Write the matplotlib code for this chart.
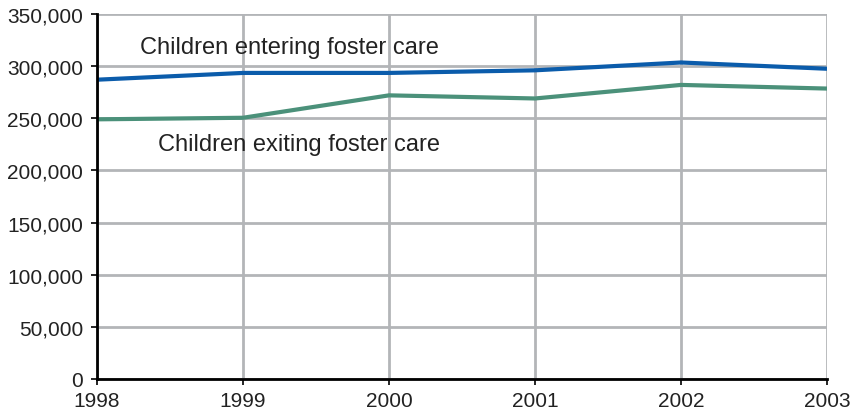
import matplotlib.pyplot as plt
from matplotlib.ticker import FuncFormatter

plt.rcParams['font.family'] = ['Liberation Sans', 'DejaVu Sans']

years = [1998, 1999, 2000, 2001, 2002, 2003]
entering = [287000, 293500, 293500, 296000, 303500, 297500]
exiting = [249000, 250500, 272000, 269000, 282000, 278500]

fig = plt.figure(figsize=(8.52, 4.14), dpi=100)
ax = fig.add_axes([97 / 852, 1 - 380 / 414, 730 / 852, 365 / 414])

ax.plot(years, entering, color='#0b5cab', lw=3, solid_capstyle='butt', zorder=3)
ax.plot(years, exiting, color='#4b917a', lw=3, solid_capstyle='butt', zorder=3)

ax.set_xlim(1998, 2003)
ax.set_ylim(0, 350000)
ax.set_xticks(years)
ax.set_yticks(range(0, 350001, 50000))
ax.yaxis.set_major_formatter(FuncFormatter(lambda v, p: f'{int(v):,}'))

ax.grid(True, color='#b3b5b8', lw=2)
ax.set_axisbelow(True)
for s in ['top', 'right']:
    ax.spines[s].set_visible(False)
for s in ['left', 'bottom']:
    ax.spines[s].set_linewidth(2)
    ax.spines[s].set_zorder(4)
ax.tick_params(axis='both', labelsize=15, length=4, width=1.2, colors='black',
               labelcolor='#222222')
ax.tick_params(axis='y', pad=6)
ax.tick_params(axis='x', pad=5)

ax.text(1998.295, 318000, 'Children entering foster care', fontsize=17,
        va='center', ha='left', color='#222222')
ax.text(1998.42, 225000, 'Children exiting foster care', fontsize=17,
        va='center', ha='left', color='#222222')

fig.savefig('out.png', dpi=100)
